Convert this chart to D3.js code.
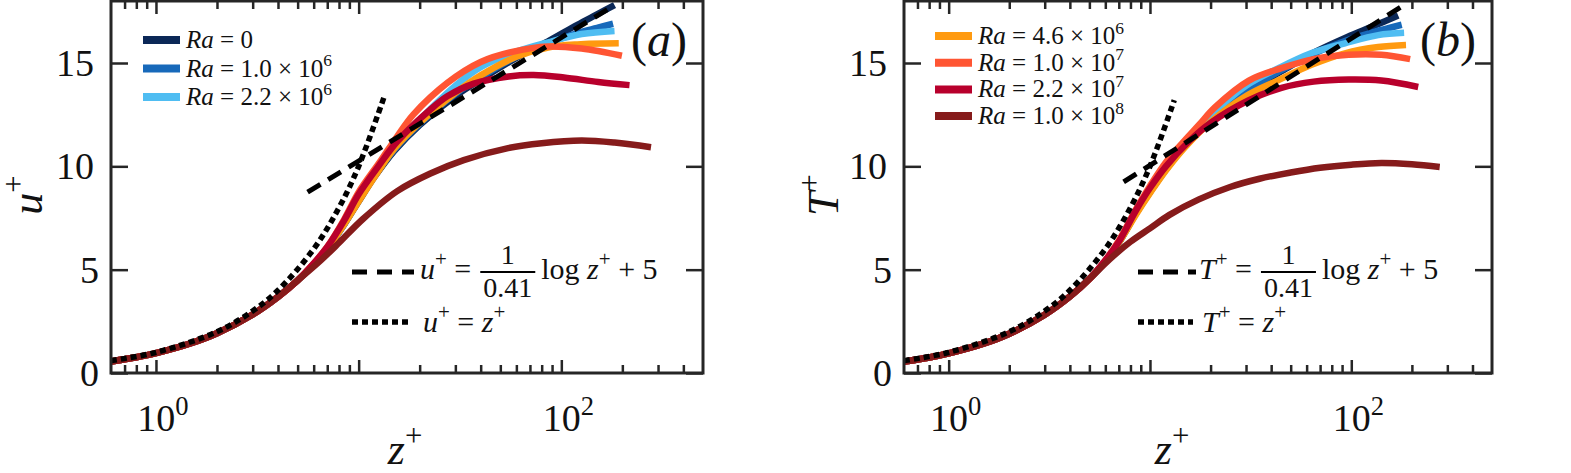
<!DOCTYPE html>
<html>
<head>
<meta charset="utf-8">
<script src="https://cdn.jsdelivr.net/npm/d3@7"></script>
<style>
  body { margin: 0; background: #fff; }
  text { font-family: "Liberation Serif", "DejaVu Serif", serif; fill: #111; }
</style>
</head>
<body>
<script>
// Ra values for the legend (mantissa x 10^exponent)
const raMantissa = [null, "1.0", "2.2", "4.6", "1.0", "2.2", "1.0"]
const raExponent = [null, "6", "6", "6", "7", "7", "8"]
const seriesColors = ["#0b2857", "#1769ba", "#4fbdf2", "#ff9a10", "#ff5533", "#b8002c", "#861b1b"]

// u+ profiles, [z+, u+]
const uTrunk = [[0.6, 0.56], [0.8, 0.76], [1, 0.96], [1.5, 1.45], [2, 1.92], [3, 2.83], [4, 3.68], [5, 4.48]]
const uRa0 = uTrunk.concat([[6, 5.25], [7, 6.0], [8.5, 7.2], [10, 8.3], [12, 9.5], [15, 10.75], [20, 12.0], [30, 13.4], [40, 14.2], [60, 15.25], [86, 16.05], [120, 16.85], [150, 17.35], [183, 17.8]])
const uRa1e6 = uTrunk.concat([[6, 5.25], [7, 6.0], [8.5, 7.2], [10, 8.35], [12, 9.55], [15, 10.8], [20, 12.05], [30, 13.5], [40, 14.3], [60, 15.3], [86, 15.95], [120, 16.45], [150, 16.7], [180, 16.9]])
const uRa2e6 = uTrunk.concat([[6, 5.25], [7, 6.0], [8.5, 7.25], [10, 8.45], [12, 9.7], [15, 10.95], [20, 12.25], [30, 13.9], [40, 14.8], [58, 15.5], [86, 16.0], [126, 16.4], [183, 16.55]])
const uRa4e6 = uTrunk.concat([[6, 5.25], [7, 6.0], [8.5, 7.2], [10, 8.3], [12, 9.5], [15, 10.85], [20, 12.1], [30, 13.55], [40, 14.4], [60, 15.3], [86, 15.75], [120, 15.9], [192, 15.95]])
const uRa1e7 = uTrunk.concat([[6, 5.3], [7, 6.1], [8.5, 7.45], [10, 8.75], [12.8, 10.25], [15.5, 11.45], [18.6, 12.5], [27.5, 14.05], [40, 15.05], [58, 15.55], [86, 15.8], [126, 15.7], [199, 15.35]])
const uRa2e7 = uTrunk.concat([[6, 5.3], [7, 6.1], [8.5, 7.4], [10, 8.65], [12.5, 10.0], [15.5, 11.2], [22.6, 12.75], [27.5, 13.4], [37, 14.0], [55, 14.35], [73, 14.42], [103, 14.3], [152, 14.08], [217, 13.93]])
const uRa1e8 = uTrunk.concat([[6.5, 5.45], [8, 6.3], [10.5, 7.45], [15.5, 8.8], [22.6, 9.65], [33, 10.3], [54.6, 10.88], [80, 11.12], [126, 11.25], [183, 11.15], [277, 10.92]])
const uLogLaw = [[5.6, 8.75], [183, 17.8]]
const uLinearLaw = [[0.6, 0.6], [1, 1], [2, 2], [3, 3], [4, 4], [6, 6], [8, 8], [10, 10], [13.4, 13.4]]

// T+ profiles, [z+, T+]
const tTrunk = [[0.6, 0.55], [0.8, 0.75], [1, 0.95], [1.5, 1.43], [2, 1.9], [3, 2.82], [4, 3.7], [5, 4.55]]
const tRa0 = tTrunk.concat([[6, 5.4], [7, 6.3], [8.5, 7.7], [10, 8.75], [12, 9.85], [15, 11.0], [20, 12.25], [30, 13.6], [45, 14.6], [65, 15.5], [95, 16.25], [130, 16.8], [171, 17.3]])
const tRa1e6 = tTrunk.concat([[6, 5.4], [7, 6.3], [8.5, 7.7], [10, 8.75], [12, 9.85], [15, 11.0], [20, 12.3], [30, 13.65], [45, 14.65], [65, 15.45], [95, 16.1], [130, 16.5], [178, 16.85]])
const tRa2e6 = tTrunk.concat([[6, 5.4], [7, 6.3], [8.5, 7.75], [10, 8.85], [12, 9.95], [15, 11.15], [20, 12.45], [30, 13.9], [43.5, 14.75], [63, 15.47], [93, 15.95], [136, 16.35], [183, 16.46]])
const tRa4e6 = tTrunk.concat([[6, 5.4], [7, 6.3], [8.5, 7.65], [10, 8.7], [12, 9.8], [15, 10.95], [20, 12.15], [30, 13.4], [43.5, 14.17], [63, 14.9], [93, 15.47], [136, 15.77], [187, 15.87]])
const tRa1e7 = tTrunk.concat([[6, 5.45], [7, 6.4], [8.5, 7.9], [10, 9.05], [12, 10.2], [14.4, 11.1], [17.5, 12.0], [21, 12.85], [31, 14.15], [45, 14.75], [66, 15.2], [97, 15.4], [141, 15.4], [196, 15.19]])
const tRa2e7 = tTrunk.concat([[6, 5.45], [7, 6.35], [8.5, 7.85], [10, 8.95], [12, 10.0], [15.6, 11.2], [20, 12.1], [31, 13.2], [45, 13.8], [65, 14.1], [97, 14.2], [141, 14.15], [215, 13.84]])
const tRa1e8 = tTrunk.concat([[6.3, 5.5], [8, 6.35], [10, 7.0], [12.5, 7.65], [17.5, 8.4], [25, 9.0], [35, 9.4], [50, 9.7], [70, 9.93], [100, 10.08], [141, 10.16], [200, 10.1], [275, 9.97]])
const tLogLaw = [[7.4, 9.25], [176, 17.7]]
const tLinearLaw = [[0.6, 0.6], [1, 1], [2, 2], [3, 3], [4, 4], [6, 6], [8, 8], [10, 10], [13.2, 13.2]]

const yTicks = [0, 5, 10, 15]
const xMajor = [1, 10, 100]
const xMinor = [0.7, 0.8, 0.9, 2, 3, 4, 5, 6, 7, 8, 9, 20, 30, 40, 50, 60, 70, 80, 90, 200, 300, 400]
const xLabelled = [[1, "0"], [100, "2"]]

const TOP = 1, BOTTOM = 373
const AXIS = "#262626"

const svg = d3.select("body").append("svg")
  .attr("width", 1571)
  .attr("height", 473)

// text with italic / superscript pieces
function rich(sel, parts, size) {
  let shifted = 0
  parts.forEach(p => {
    const ts = sel.append("tspan").text(p.t)
    const want = p.sup ? -size * 0.42 : 0
    if (want !== shifted) { ts.attr("dy", want - shifted); shifted = want }
    if (p.it) ts.attr("font-style", "italic")
    if (p.sup) ts.attr("font-size", size * 0.7)
  })
  return sel
}

function drawPanel(p) {
  const g = svg.append("g")
  const x = d3.scaleLog().domain([0.6, 500]).range([p.left, p.right])
  const y = d3.scaleLinear().domain([0, 18]).range([BOTTOM, TOP])

  const line = d3.line()
    .x(d => x(d[0]))
    .y(d => y(d[1]))
    .curve(d3.curveCatmullRom.alpha(0.5))

  g.selectAll(".curve")
    .data(p.curves)
    .enter().append("path")
    .attr("class", "curve")
    .attr("fill", "none")
    .attr("stroke", (d, i) => seriesColors[i])
    .attr("stroke-width", 6.5)
    .attr("d", d => line(d))

  g.append("path")
    .attr("fill", "none").attr("stroke", "#000").attr("stroke-width", 5)
    .attr("stroke-dasharray", "15,9")
    .attr("d", line(p.logLaw))
  g.append("path")
    .attr("fill", "none").attr("stroke", "#000").attr("stroke-width", 5.5)
    .attr("stroke-dasharray", "6,4")
    .attr("d", line(p.linearLaw))

  // axes, ticks inward on all four sides
  const ax = (gen, tx, ty) => {
    const a = g.append("g").attr("transform", `translate(${tx},${ty})`).call(gen)
    a.select(".domain").remove()
    a.selectAll("line").attr("stroke", AXIS).attr("stroke-width", 2.5)
  }
  ax(d3.axisBottom(x).tickValues(xMajor).tickSize(-13).tickFormat(""), 0, BOTTOM)
  ax(d3.axisBottom(x).tickValues(xMinor).tickSize(-8).tickFormat(""), 0, BOTTOM)
  ax(d3.axisTop(x).tickValues(xMajor).tickSize(-13).tickFormat(""), 0, TOP)
  ax(d3.axisTop(x).tickValues(xMinor).tickSize(-8).tickFormat(""), 0, TOP)
  ax(d3.axisLeft(y).tickValues(yTicks).tickSize(-17).tickFormat(""), p.left, 0)
  ax(d3.axisRight(y).tickValues(yTicks).tickSize(-17).tickFormat(""), p.right, 0)

  g.append("rect")
    .attr("x", p.left).attr("y", TOP)
    .attr("width", p.right - p.left).attr("height", BOTTOM - TOP)
    .attr("fill", "none").attr("stroke", AXIS).attr("stroke-width", 3)

  // tick labels
  yTicks.forEach(v => {
    g.append("text")
      .attr("x", p.left - (v >= 10 ? 17 : 12)).attr("y", y(v) + 13)
      .attr("text-anchor", "end").attr("font-size", 38)
      .text(v)
  })
  xLabelled.forEach(([v, e]) => {
    rich(g.append("text")
      .attr("x", x(v) + 7).attr("y", 431)
      .attr("text-anchor", "middle").attr("font-size", 38),
      [{ t: "10" }, { t: e, sup: true }], 38)
  })

  // axis titles
  rich(g.append("text")
    .attr("x", p.xLabelX).attr("y", 464)
    .attr("text-anchor", "middle").attr("font-size", 44),
    [{ t: "z", it: true }, { t: "+", sup: true }], 44)
  rich(g.append("text")
    .attr("transform", `translate(${p.yLabelX},195) rotate(-90)`)
    .attr("text-anchor", "middle").attr("font-size", 44),
    [{ t: p.sym, it: true }, { t: "+", sup: true }], 44)

  // panel tag
  g.append("text")
    .attr("x", p.right - 16).attr("y", 56)
    .attr("text-anchor", "end").attr("font-size", 48)
    .html(`(<tspan font-style="italic">${p.tag}</tspan>)`)

  // Ra legend
  p.legend.forEach((k, i) => {
    const ly = p.legendY + i * p.legendStep
    g.append("line")
      .attr("x1", p.legendX).attr("x2", p.legendX + 37)
      .attr("y1", ly).attr("y2", ly)
      .attr("stroke", seriesColors[k]).attr("stroke-width", 8)
    const parts = raMantissa[k] === null
      ? [{ t: "Ra", it: true }, { t: " = 0" }]
      : [{ t: "Ra", it: true }, { t: " = " + raMantissa[k] + " × 10" }, { t: raExponent[k], sup: true }]
    rich(g.append("text")
      .attr("x", p.legendX + 43).attr("y", ly + 8)
      .attr("font-size", 25), parts, 25)
  })

  // law legend
  const fs = 30
  g.append("line")
    .attr("x1", p.lawX).attr("x2", p.lawX + p.lawLen)
    .attr("y1", 272).attr("y2", 272)
    .attr("stroke", "#000").attr("stroke-width", 5).attr("stroke-dasharray", "15,10")
  const t1 = rich(g.append("text").attr("x", p.lawTextX).attr("y", 279).attr("font-size", fs),
    [{ t: p.sym, it: true }, { t: "+", sup: true }, { t: " =" }], fs)
  const fx = p.lawTextX + t1.node().getComputedTextLength() + 9
  const den = g.append("text").attr("y", 297).attr("font-size", 28).attr("text-anchor", "middle").text("0.41")
  const fw = den.node().getComputedTextLength() + 6
  den.attr("x", fx + fw / 2)
  g.append("text").attr("x", fx + fw / 2).attr("y", 264).attr("font-size", 28).attr("text-anchor", "middle").text("1")
  g.append("line").attr("x1", fx).attr("x2", fx + fw).attr("y1", 272).attr("y2", 272)
    .attr("stroke", "#000").attr("stroke-width", 2)
  rich(g.append("text").attr("x", fx + fw + 6).attr("y", 279).attr("font-size", fs),
    [{ t: "log " }, { t: "z", it: true }, { t: "+", sup: true }, { t: " + 5" }], fs)

  g.append("line")
    .attr("x1", p.lawX).attr("x2", p.lawX + p.lawLen - 3)
    .attr("y1", 322).attr("y2", 322)
    .attr("stroke", "#000").attr("stroke-width", 5.5).attr("stroke-dasharray", "6,4")
  rich(g.append("text").attr("x", p.lawTextX + 3).attr("y", 332).attr("font-size", fs),
    [{ t: p.sym, it: true }, { t: "+", sup: true }, { t: " = " }, { t: "z", it: true }, { t: "+", sup: true }], fs)
}

drawPanel({
  left: 111, right: 703, sym: "u", tag: "a", yLabelX: 42, xLabelX: 405,
  curves: [uRa0, uRa1e6, uRa2e6, uRa4e6, uRa1e7, uRa2e7, uRa1e8],
  logLaw: uLogLaw, linearLaw: uLinearLaw,
  legend: [0, 1, 2], legendX: 143, legendY: 40, legendStep: 28.5,
  lawX: 352, lawLen: 62, lawTextX: 420
})
drawPanel({
  left: 904, right: 1492, sym: "T", tag: "b", yLabelX: 838, xLabelX: 1172,
  curves: [tRa0, tRa1e6, tRa2e6, tRa4e6, tRa1e7, tRa2e7, tRa1e8],
  logLaw: tLogLaw, linearLaw: tLinearLaw,
  legend: [3, 4, 5, 6], legendX: 935, legendY: 36, legendStep: 26.7,
  lawX: 1138, lawLen: 58, lawTextX: 1199
})
</script>
</body>
</html>
